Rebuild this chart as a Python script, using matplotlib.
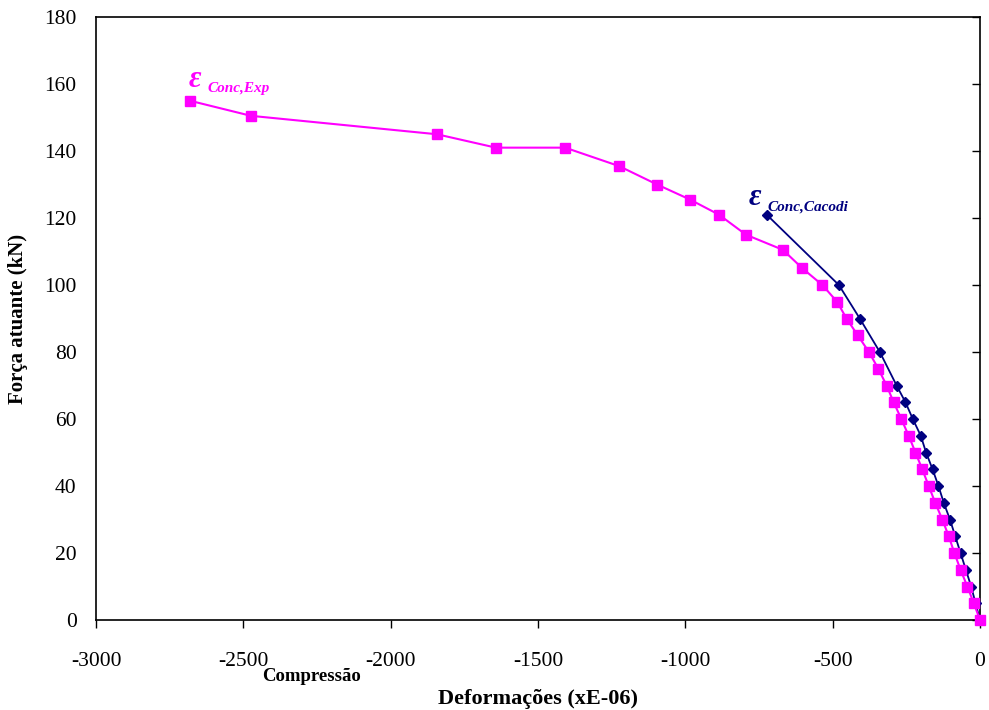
import matplotlib
matplotlib.use("Agg")
import matplotlib.pyplot as plt

plt.rcParams['font.family'] = ['Liberation Serif', 'DejaVu Serif']
plt.rcParams['axes.unicode_minus'] = False

# experimental curve (magenta squares)
def_exp = [-2681, -2474, -1843, -1643, -1408, -1225, -1096, -984, -886, -794,
           -669, -603, -535, -485, -453, -415, -377, -345, -317, -293, -267,
           -242, -219, -196, -174, -152, -128, -106, -87, -66, -43, -21, 0]
forca_exp = [155, 150.5, 145, 141, 141, 135.5, 130, 125.5, 121, 115,
             110.5, 105, 100, 95, 90, 85, 80, 75, 70, 65, 60,
             55, 50, 45, 40, 35, 30, 25, 20, 15, 10, 5, 0]

# cacodi curve (navy diamonds)
def_cac = [-724, -479, -408, -340, -283, -253, -228, -201, -183, -161, -141,
           -123, -102, -84, -66, -48, -30, -15, 0]
forca_cac = [121, 100, 90, 80, 70, 65, 60, 55, 50, 45, 40,
             35, 30, 25, 20, 15, 10, 5, 0]

fig = plt.figure(figsize=(9.89, 7.10), dpi=100)
ax = fig.add_axes([96 / 989, 90 / 710, 884 / 989, 603 / 710])

ax.plot(def_cac, forca_cac, color='#000080', lw=1.3, marker='D', ms=5.5,
        clip_on=False, zorder=3)
ax.plot(def_exp, forca_exp, color='#FF00FF', lw=1.5, marker='s', ms=7,
        clip_on=False, zorder=4)

ax.set_xlim(-3000, 0)
ax.set_ylim(0, 180)
ax.set_xticks(range(-3000, 1, 500))
ax.set_yticks(range(0, 181, 20))
ax.tick_params(axis='x', direction='out', length=6, width=1, labelsize=15.5, pad=17)
ax.tick_params(axis='y', left=False, right=True, labelleft=True, labelright=False,
               direction='in', length=6, width=1, labelsize=15.5, pad=14)
for s in ax.spines.values():
    s.set_linewidth(1.2)

ax.set_xlabel('Deformações (xE-06)', fontsize=16, fontweight='bold', labelpad=13)
ax.set_ylabel('Força atuante (kN)', fontsize=15, fontweight='bold', labelpad=12)
ax.text(-2435, -17, 'Compressão', fontsize=13.5, fontweight='bold', ha='left',
        va='center')

# curve labels
ax.text(-2686, 159.1, 'ε', color='#FF00FF', fontsize=22, fontweight='bold',
        style='italic', ha='left', va='baseline')
ax.text(-2621, 157.6, 'Conc,Exp', color='#FF00FF', fontsize=11, fontweight='bold',
        style='italic', ha='left', va='baseline')
ax.text(-786, 123.9, 'ε', color='#000080', fontsize=22, fontweight='bold',
        style='italic', ha='left', va='baseline')
ax.text(-721, 122.1, 'Conc,Cacodi', color='#000080', fontsize=11, fontweight='bold',
        style='italic', ha='left', va='baseline')

fig.savefig('out.png', dpi=100)
